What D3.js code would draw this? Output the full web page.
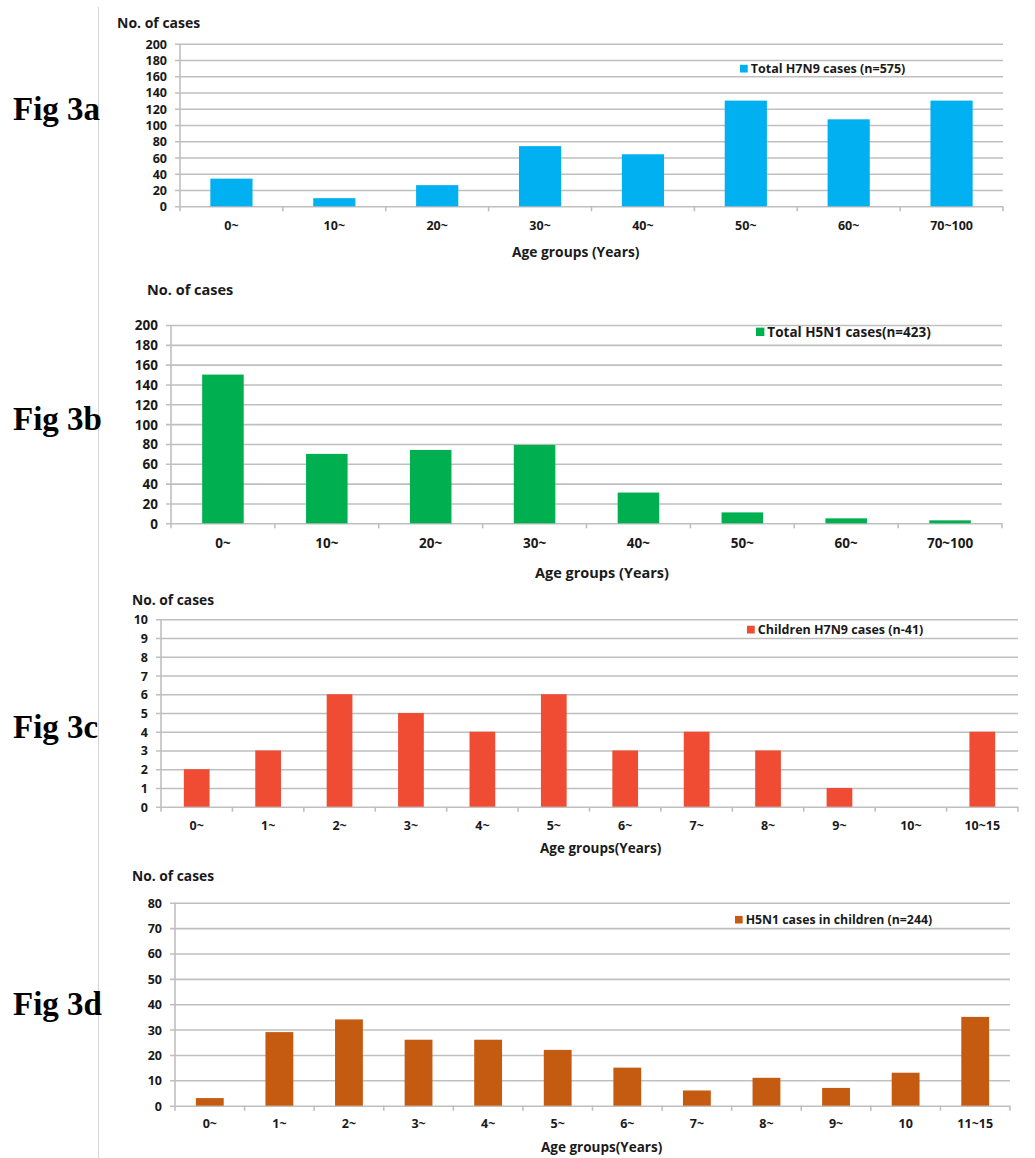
<!DOCTYPE html>
<html>
<head>
<meta charset="utf-8">
<script src="https://cdn.jsdelivr.net/npm/d3@7"></script>
<style>
  html, body { margin: 0; padding: 0; background: #fff; }
  svg { display: block; }
  .lbl { font-family: "Open Sans", Lato, sans-serif; font-weight: 700; fill: #1a1a1a; }
  .fig { font-family: "Liberation Serif", "Times New Roman", serif; font-weight: 700; fill: #000; }
</style>
</head>
<body>
<svg id="chart" width="1035" height="1158"></svg>
<script>
// Age-group case counts for H7N9 and H5N1
const adultGroups = ["0~", "10~", "20~", "30~", "40~", "50~", "60~", "70~100"];
const h7n9Total = [34, 10, 26, 74, 64, 130, 107, 130];
const h5n1Total = [150, 70, 74, 79, 31, 11, 5, 3];

const childGroupsH7N9 = ["0~", "1~", "2~", "3~", "4~", "5~", "6~", "7~", "8~", "9~", "10~", "10~15"];
const h7n9Children = [2, 3, 6, 5, 4, 6, 3, 4, 3, 1, 0, 4];

const childGroupsH5N1 = ["0~", "1~", "2~", "3~", "4~", "5~", "6~", "7~", "8~", "9~", "10", "11~15"];
const h5n1Children = [3, 29, 34, 26, 26, 22, 15, 6, 11, 7, 13, 35];

const yTicks200 = [0, 20, 40, 60, 80, 100, 120, 140, 160, 180, 200];
const yTicks10 = [0, 1, 2, 3, 4, 5, 6, 7, 8, 9, 10];
const yTicks80 = [0, 10, 20, 30, 40, 50, 60, 70, 80];

const panels = [
  { fig: "Fig 3a", figY: 120, cats: adultGroups, vals: h7n9Total, ticks: yTicks200, max: 200,
    color: "#00B0F0", legend: "Total H7N9 cases (n=575)",
    x0: 180, x1: 1003, yTop: 43.7, yBot: 206.3, pad: 0.59, fs: 12.5, noFs: 14,
    noX: 117, noY: 28, legX: 740, legY: 73, legFs: 12.5, xLabY: 230,
    title: "Age groups  (Years)", titleX: 512, titleY: 257, titleFs: 13.8 },
  { fig: "Fig 3b", figY: 430, cats: adultGroups, vals: h5n1Total, ticks: yTicks200, max: 200,
    color: "#00B050", legend: "Total H5N1 cases(n=423)",
    x0: 171, x1: 1002, yTop: 325, yBot: 523.3, pad: 0.6, fs: 13.5, noFs: 14.5,
    noX: 147, noY: 295, legX: 756, legY: 336.5, legFs: 13.5, xLabY: 548,
    title: "Age groups  (Years)", titleX: 535, titleY: 578, titleFs: 14.5 },
  { fig: "Fig 3c", figY: 738, cats: childGroupsH7N9, vals: h7n9Children, ticks: yTicks10, max: 10,
    color: "#F04B33", legend: "Children H7N9 cases (n-41)",
    x0: 161, x1: 1018, yTop: 619.3, yBot: 806.7, pad: 0.64, fs: 12.5, noFs: 13.8,
    noX: 132, noY: 605, legX: 747, legY: 634, legFs: 12.5, xLabY: 830,
    title: "Age groups(Years)", titleX: 540, titleY: 853, titleFs: 13.5 },
  { fig: "Fig 3d", figY: 1015, cats: childGroupsH5N1, vals: h5n1Children, ticks: yTicks80, max: 80,
    color: "#C55A11", legend: "H5N1 cases in children (n=244)",
    x0: 175, x1: 1010, yTop: 902.7, yBot: 1105.7, pad: 0.6, fs: 12.5, noFs: 13.8,
    noX: 132, noY: 881, legX: 735, legY: 924, legFs: 12.3, xLabY: 1128,
    title: "Age groups(Years)", titleX: 541, titleY: 1152, titleFs: 13.5 }
];

const svg = d3.select("#chart");
const gridColor = "#bfbfbf";

// thin divider between the panel labels and the charts
svg.append("line")
  .attr("x1", 98.5).attr("x2", 98.5).attr("y1", 7).attr("y2", 1158)
  .attr("stroke", "#d4d4d4").attr("stroke-width", 1);

panels.forEach(p => {
  const g = svg.append("g");

  const x = d3.scaleBand().domain(p.cats).range([p.x0, p.x1])
    .paddingInner(p.pad).paddingOuter(p.pad / 2);
  const y = d3.scaleLinear().domain([0, p.max]).range([p.yBot, p.yTop]);

  // horizontal gridlines with y tick labels
  const yAxis = d3.axisLeft(y).tickValues(p.ticks).tickSize(0).tickPadding(0)
    .tickFormat(d3.format("d"));
  const yg = g.append("g").attr("transform", `translate(${p.x0 - 5},0)`).call(yAxis);
  yg.select(".domain").remove();
  yg.selectAll(".tick line").attr("stroke", gridColor).attr("stroke-width", 1.6)
    .attr("x1", 0).attr("x2", p.x1 - p.x0 + 5);
  yg.selectAll(".tick text").attr("class", "lbl").attr("x", -8)
    .style("font-size", p.fs + "px").attr("dy", "0.36em");

  // vertical axis line
  g.append("line").attr("x1", p.x0).attr("x2", p.x0).attr("y1", p.yTop).attr("y2", p.yBot)
    .attr("stroke", gridColor).attr("stroke-width", 1.6);

  // category axis with boundary ticks
  const bounds = p.cats.map((c, i) => p.x0 + i * x.step()).concat([p.x1]);
  g.selectAll(".btick").data(bounds).join("line")
    .attr("x1", d => d).attr("x2", d => d)
    .attr("y1", p.yBot).attr("y2", p.yBot + 5)
    .attr("stroke", gridColor).attr("stroke-width", 1.6);
  const xAxis = d3.axisBottom(x).tickSize(0).tickPadding(0);
  const xg = g.append("g").attr("transform", `translate(0,${p.xLabY})`).call(xAxis);
  xg.select(".domain").remove();
  xg.selectAll(".tick text").attr("class", "lbl").attr("dy", 0).attr("y", 0)
    .style("font-size", p.fs + "px");

  // bars
  g.selectAll(".bar").data(p.cats.map((c, i) => ({ c, v: p.vals[i] }))).join("rect")
    .attr("x", d => x(d.c)).attr("width", x.bandwidth())
    .attr("y", d => y(d.v)).attr("height", d => y(0) - y(d.v))
    .attr("fill", p.color);

  // y axis caption
  g.append("text").attr("class", "lbl").attr("x", p.noX).attr("y", p.noY)
    .style("font-size", p.noFs + "px").text("No. of cases");

  // x axis caption
  g.append("text").attr("class", "lbl").attr("x", p.titleX).attr("y", p.titleY)
    .style("font-size", p.titleFs + "px").text(p.title);

  // legend
  const sq = p.legFs * 0.62;
  g.append("rect").attr("x", p.legX).attr("y", p.legY - sq - 0.5)
    .attr("width", sq).attr("height", sq).attr("fill", p.color);
  g.append("text").attr("class", "lbl").attr("x", p.legX + sq + 3).attr("y", p.legY)
    .style("font-size", p.legFs + "px").text(p.legend);

  // panel label
  g.append("text").attr("class", "fig").attr("x", 13).attr("y", p.figY)
    .style("font-size", "33px").text(p.fig);
});
</script>
</body>
</html>
